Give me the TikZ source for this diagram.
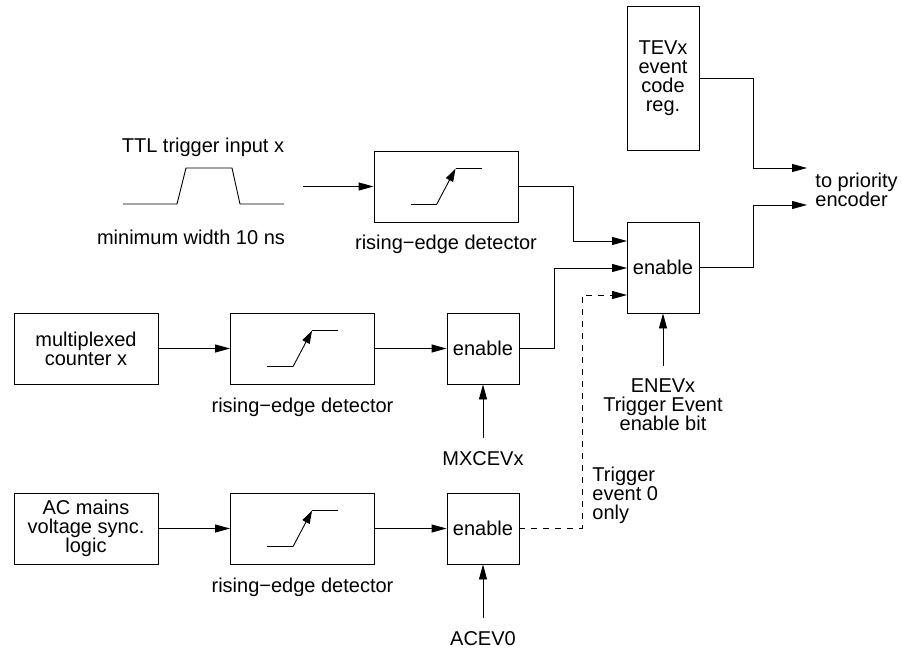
\documentclass[tikz,border=0pt]{standalone}
\usepackage{fontspec}
\setmainfont{Liberation Sans}
\usetikzlibrary{arrows.meta,calc}
\newcommand\edgesym[1]{%
  \draw ($(#1.north west)+(37,54)$) -- ($(#1.north west)+(63,54)$);
  \draw[sarr] ($(#1.north west)+(63,54)$) -- ($(#1.north west)+(82,18)$);
  \draw ($(#1.north west)+(82,18)$) -- ($(#1.north west)+(108,18)$);}
\begin{document}
\begin{tikzpicture}[x=1pt,y=-1pt,line width=0.9pt,
  font=\fontsize{20}{19}\selectfont,
  box/.style={draw,rectangle,inner sep=0pt,align=center},
  detbox/.style={box,minimum width=144pt,minimum height=71pt},
  lblock/.style={box,minimum width=144pt,minimum height=71pt},
  enbox/.style={box,minimum width=72pt,minimum height=71pt},
  txt/.style={inner sep=0pt,align=center},
  arr/.style={-{Triangle[length=15pt,width=8pt]}},
  sarr/.style={-{Triangle[length=13pt,width=8pt]}},
  dsh/.style={dash pattern=on 6pt off 6pt}]
\useasboundingbox (0,0) rectangle (902,650);

% boxes
\node[box,minimum width=72pt,minimum height=144pt] (tev) at (663,78) {TEVx\\event\\code\\reg.};
\node[detbox] (det1) at (446,186.5) {};
\node[box,minimum width=72pt,minimum height=91pt] (en1) at (663,267.5) {enable};
\node[lblock] (mux) at (86,348.5) {multiplexed\\counter x};
\node[detbox] (det2) at (302.5,348.5) {};
\node[enbox] (en2) at (483,348.5) {enable};
\node[lblock] (ac) at (86,528.5) {AC mains\\voltage sync.\\logic};
\node[detbox] (det3) at (302.5,528.5) {};
\node[enbox] (en3) at (483,528.5) {enable};

\edgesym{det1}
\edgesym{det2}
\edgesym{det3}

% texts
\node[txt] (ttl) at (203,147) {TTL trigger input x};
\node[txt] (minw) at (191,237) {minimum width 10 ns};
\node[txt] (l1) at (446,244) {rising−edge detector};
\node[txt] (l2) at (302.5,407) {rising−edge detector};
\node[txt] (l3) at (302.5,587) {rising−edge detector};
\node[txt] (mxc) at (483,459) {MXCEVx};
\node[txt] (acev) at (483,639) {ACEV0};
\node[txt] (enev) at (663,405) {ENEVx\\Trigger Event\\enable bit};
\node[txt,anchor=west,align=left] (only) at (592,495) {Trigger\\event 0\\only};
\node[txt,anchor=west,align=left] (prio) at (815,190) {to priority\\encoder};

% pulse
\draw (123,204) -- (177,204) -- (186,168) -- (232,168) -- (240,204) -- (284,204);

% coordinates
\coordinate (pulseout) at (303,186.5);
\coordinate (en1a) at (627,241);
\coordinate (en1b) at (627,268);
\coordinate (en1c) at (627,295);
\coordinate (out1) at (807,168);
\coordinate (out2) at (807,205);
\coordinate (enevtop) at (663,366);
\coordinate (mxctop) at (483,438);
\coordinate (acevtop) at (483,618);

% connectors
\draw[arr] (pulseout) -- (det1.west);
\draw[arr] (det1.east) -| (573,241) -- (en1a);
\draw[arr] (mux) -- (det2);
\draw[arr] (det2) -- (en2);
\draw[arr] (en2.east) -| (554,268) -- (en1b);
\draw[arr] (ac) -- (det3);
\draw[arr] (det3) -- (en3);
\draw[arr,dsh] (en3.east) -| (582,295) -- (en1c);
\draw[arr] (tev.east) -| (753,168) -- (out1);
\draw[arr] (en1.east) -| (753,205) -- (out2);
\draw[arr] (enevtop) -- (en1.south);
\draw[arr] (mxctop) -- (en2.south);
\draw[arr] (acevtop) -- (en3.south);
\end{tikzpicture}
\end{document}
